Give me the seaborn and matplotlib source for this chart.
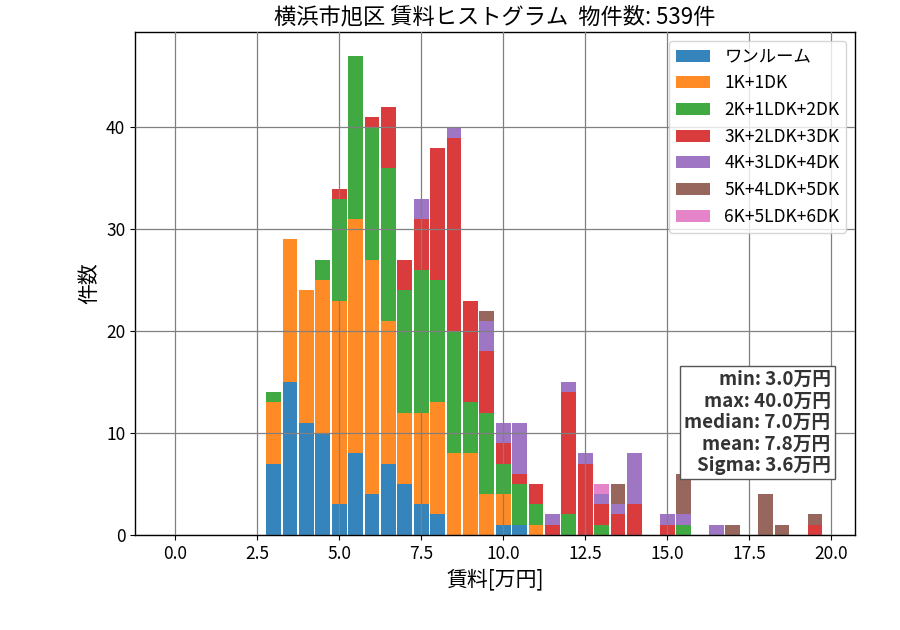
import numpy as np
import pandas as pd
import matplotlib
matplotlib.use("Agg")
import matplotlib.pyplot as plt
import seaborn as sns
from matplotlib.patches import Patch

# ---- data (bin start values in 万円, counts per layout) ----
rent_bins = [3.0, 3.5, 4.0, 4.5, 5.0, 5.5, 6.0, 6.5, 7.0, 7.5, 8.0, 8.5, 9.0, 9.5,
             10.0, 10.5, 11.0, 11.5, 12.0, 12.5, 13.0, 13.5, 14.0, 14.5, 15.0, 15.5,
             16.0, 16.5, 17.0, 17.5, 18.0, 18.5, 19.0, 19.5]
layouts = ["ワンルーム", "1K+1DK", "2K+1LDK+2DK", "3K+2LDK+3DK",
           "4K+3LDK+4DK", "5K+4LDK+5DK", "6K+5LDK+6DK"]
cnt_1r  = [7, 15, 11, 10, 3, 8, 4, 7, 5, 3, 2, 0, 0, 0, 1, 1, 0, 0, 0, 0, 0, 0, 0, 0, 0, 0, 0, 0, 0, 0, 0, 0, 0, 0]
cnt_1k  = [6, 14, 13, 15, 20, 23, 23, 14, 7, 9, 11, 8, 8, 4, 3, 0, 1, 0, 0, 0, 0, 0, 0, 0, 0, 0, 0, 0, 0, 0, 0, 0, 0, 0]
cnt_2k  = [1, 0, 0, 2, 10, 16, 13, 15, 12, 14, 12, 12, 5, 8, 3, 4, 2, 0, 2, 0, 1, 0, 0, 0, 0, 1, 0, 0, 0, 0, 0, 0, 0, 0]
cnt_3k  = [0, 0, 0, 0, 1, 0, 1, 6, 3, 5, 13, 19, 10, 6, 2, 1, 2, 1, 12, 7, 2, 2, 3, 0, 1, 0, 0, 0, 0, 0, 0, 0, 0, 1]
cnt_4k  = [0, 0, 0, 0, 0, 0, 0, 0, 0, 2, 0, 1, 0, 3, 2, 5, 0, 1, 1, 1, 1, 1, 5, 0, 1, 1, 0, 1, 0, 0, 0, 0, 0, 0]
cnt_5k  = [0, 0, 0, 0, 0, 0, 0, 0, 0, 0, 0, 0, 0, 1, 0, 0, 0, 0, 0, 0, 0, 2, 0, 0, 0, 4, 0, 0, 1, 0, 4, 1, 0, 1]
cnt_6k  = [0, 0, 0, 0, 0, 0, 0, 0, 0, 0, 0, 0, 0, 0, 0, 0, 0, 0, 0, 0, 1, 0, 0, 0, 0, 0, 0, 0, 0, 0, 0, 0, 0, 0]
stats_text = "min: 3.0万円\nmax: 40.0万円\nmedian: 7.0万円\nmean: 7.8万円\nSigma: 3.6万円"
title = "横浜市旭区 賃料ヒストグラム  物件数: 539件"

all_counts = [cnt_1r, cnt_1k, cnt_2k, cnt_3k, cnt_4k, cnt_5k, cnt_6k]
rows = []
for lay, cnts in zip(layouts, all_counts):
    for x, c in zip(rent_bins, cnts):
        rows.append({"賃料": x, "間取り": lay, "件数": float(c)})
df = pd.DataFrame(rows)

colors = sns.color_palette("tab10", 7)
pal = dict(zip(layouts, colors))

plt.rcParams["font.family"] = ["Noto Sans CJK JP", "DejaVu Sans"]
plt.rcParams["axes.unicode_minus"] = False

fig, ax = plt.subplots(figsize=(9, 6.3), dpi=100)
fig.subplots_adjust(left=0.15, right=0.95, top=0.949, bottom=0.151)

sns.histplot(data=df, x="賃料", hue="間取り", weights="件数",
             hue_order=layouts[::-1], palette=pal, multiple="stack",
             binwidth=0.5, binrange=(-0.25, 19.75), shrink=0.9, alpha=0.9,
             linewidth=0, legend=False, ax=ax)

ax.set_ylim(0, 49.35)
ax.set_xticks(np.arange(0, 20.1, 2.5))
ax.set_xticklabels([f"{v:.1f}" for v in np.arange(0, 20.1, 2.5)])
ax.set_yticks([0, 10, 20, 30, 40])
ax.tick_params(labelsize=12.5)
ax.grid(True, color="gray", linewidth=0.9)
ax.set_axisbelow(False)
for s in ax.spines.values():
    s.set_linewidth(1.0)

ax.set_title(title, fontsize=16)
ax.set_xlabel("賃料[万円]", fontsize=15)
ax.set_ylabel("件数", fontsize=15)

handles = [Patch(facecolor=pal[l], alpha=0.9, label=l) for l in layouts]
ax.legend(handles=handles, loc="upper right", fontsize=12.5, handlelength=2.0,
          labelspacing=0.5)

ax.text(0.966, 0.119, stats_text, transform=ax.transAxes, ha="right", va="bottom",
        fontsize=13.5, fontweight="bold", color="#333333", linespacing=1.17,
        bbox=dict(boxstyle="square,pad=0.22", facecolor="white", edgecolor="#555555"))

fig.savefig("out.png", dpi=100)
